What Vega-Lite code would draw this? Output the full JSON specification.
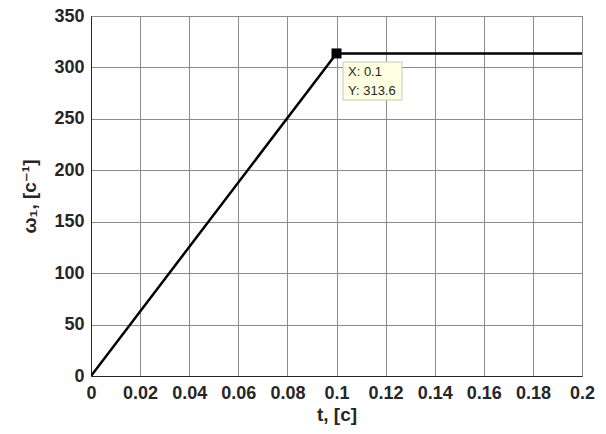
{
  "$schema": "https://vega.github.io/schema/vega-lite/v6.json",
  "width": 491,
  "height": 360,
  "autosize": {"type": "none"},
  "padding": {"left": 91, "top": 16, "right": 24, "bottom": 58},
  "background": "white",
  "config": {
    "view": {"stroke": "#262626", "strokeWidth": 1},
    "font": "Liberation Sans",
    "axis": {
      "grid": true,
      "gridColor": "#8c8c8c",
      "gridWidth": 1,
      "gridOpacity": 1,
      "domainColor": "#262626",
      "domainWidth": 1,
      "ticks": false,
      "labelFont": "Liberation Sans",
      "labelFontSize": 18,
      "labelFontWeight": "bold",
      "labelColor": "#262626",
      "titleFont": "Liberation Sans, DejaVu Sans",
      "titleFontSize": 19,
      "titleFontWeight": "bold",
      "titleColor": "#262626"
    }
  },
  "datasets": {
    "line": [
      {"t": 0, "w": 0},
      {"t": 0.1, "w": 313.6},
      {"t": 0.2, "w": 313.6}
    ],
    "tip": [
      {"t": 0.1, "w": 313.6, "label": "X: 0.1\nY: 313.6"}
    ]
  },
  "layer": [
    {
      "data": {"name": "line"},
      "mark": {"type": "line", "color": "black", "strokeWidth": 2.5, "clip": true},
      "encoding": {
        "x": {
          "field": "t", "type": "quantitative",
          "scale": {"domain": [0, 0.2], "nice": false},
          "axis": {"values": [0, 0.02, 0.04, 0.06, 0.08, 0.1, 0.12, 0.14, 0.16, 0.18, 0.2], "title": "t, [c]", "labelPadding": 8, "titlePadding": 3, "labelFlush": false, "labelOverlap": false, "format": "~g"}
        },
        "y": {
          "field": "w", "type": "quantitative",
          "scale": {"domain": [0, 350], "nice": false},
          "axis": {"values": [0, 50, 100, 150, 200, 250, 300, 350], "title": "ω₁, [c⁻¹]", "labelPadding": 7, "titlePadding": 14, "labelFlush": false, "labelOverlap": false}
        }
      }
    },
    {
      "data": {"name": "tip"},
      "mark": {"type": "rect", "fill": "#ffffe1", "stroke": "#c8c8b4", "strokeWidth": 1, "xOffset": 6.5, "x2Offset": 65.5, "yOffset": 8.6, "y2Offset": 46.6},
      "encoding": {
        "x": {"field": "t", "type": "quantitative"},
        "x2": {"field": "t"},
        "y": {"field": "w", "type": "quantitative"},
        "y2": {"field": "w"}
      }
    },
    {
      "data": {"name": "tip"},
      "mark": {"type": "text", "align": "left", "baseline": "top", "dx": 11.5, "dy": 13, "fontSize": 13, "lineHeight": 19, "font": "Liberation Sans", "color": "#262626", "lineBreak": "\n"},
      "encoding": {
        "x": {"field": "t", "type": "quantitative"},
        "y": {"field": "w", "type": "quantitative"},
        "text": {"field": "label"}
      }
    },
    {
      "data": {"name": "tip"},
      "mark": {"type": "point", "shape": "square", "size": 100, "filled": true, "color": "black", "opacity": 1},
      "encoding": {
        "x": {"field": "t", "type": "quantitative"},
        "y": {"field": "w", "type": "quantitative"}
      }
    }
  ]
}
